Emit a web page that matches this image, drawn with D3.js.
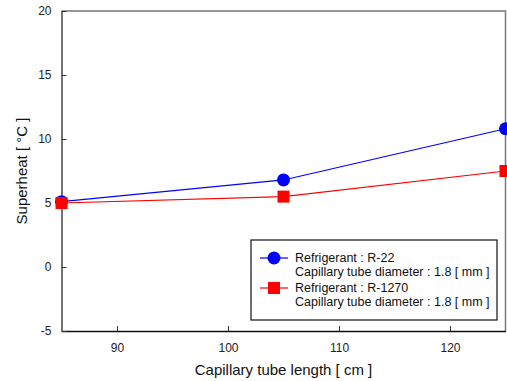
<!DOCTYPE html>
<html>
<head>
<meta charset="utf-8">
<script src="https://cdn.jsdelivr.net/npm/d3@7"></script>
<style>
  body { margin: 0; background: #fff; }
  svg { display: block; font-family: "Liberation Sans", Arial, sans-serif; }
</style>
</head>
<body>
<div id="chart"></div>
<script>
// Data
const lengths = [85, 105, 125];
const r22 = [5.1, 6.8, 10.8];
const r1270 = [5.0, 5.5, 7.5];
const xTicks = [90, 100, 110, 120];
const yTicks = [-5, 0, 5, 10, 15, 20];
const series = [
    { name: 'Refrigerant : R-22', sub: 'Capillary tube diameter : 1.8 [ mm ]', values: r22, color: '#0000ff', shape: 'circle' },
    { name: 'Refrigerant : R-1270', sub: 'Capillary tube diameter : 1.8 [ mm ]', values: r1270, color: '#ff0000', shape: 'square' }
];

const width = 507, height = 381;
const plotLeft = 61.5, plotRight = 505.5, plotTop = 11, plotBottom = 331;

const svg = d3.select('#chart').append('svg')
    .attr('width', width)
    .attr('height', height);

const x = d3.scaleLinear().domain([85, 125]).range([plotLeft, plotRight]);
const y = d3.scaleLinear().domain([-5, 20]).range([plotBottom, plotTop]);

// frame (top / right)
svg.append('path')
    .attr('d', `M${plotLeft},${plotTop}H${plotRight}V${plotBottom}`)
    .attr('fill', 'none')
    .attr('stroke', '#777')
    .attr('stroke-width', 1.5);

// x axis
const xAxis = svg.append('g')
    .attr('transform', `translate(0,${plotBottom})`)
    .call(d3.axisBottom(x).tickValues(xTicks).tickSizeInner(-5).tickSizeOuter(0).tickPadding(12));
xAxis.select('.domain').attr('stroke', '#111').attr('stroke-width', 1.5);
xAxis.selectAll('.tick line').attr('stroke', '#333');
xAxis.selectAll('text')
    .style('font-size', '12px')
    .style('font-family', '"Liberation Sans", Arial, sans-serif')
    .attr('fill', '#222');

// y axis
const yAxis = svg.append('g')
    .attr('transform', `translate(${plotLeft},0)`)
    .call(d3.axisLeft(y).tickValues(yTicks).tickFormat(d => String(d)).tickSizeInner(-5).tickSizeOuter(0).tickPadding(10));
yAxis.select('.domain').attr('stroke', '#444').attr('stroke-width', 1.5);
yAxis.selectAll('.tick line').attr('stroke', '#333');
yAxis.selectAll('text')
    .style('font-size', '12px')
    .style('font-family', '"Liberation Sans", Arial, sans-serif')
    .attr('fill', '#222');

// axis titles
svg.append('text')
    .attr('x', (plotLeft + plotRight) / 2)
    .attr('y', 375)
    .attr('text-anchor', 'middle')
    .style('font-size', '15px')
    .attr('fill', '#111')
    .text('Capillary tube length [ cm ]');

svg.append('text')
    .attr('transform', `translate(27,${(plotTop + plotBottom) / 2}) rotate(-90)`)
    .attr('text-anchor', 'middle')
    .style('font-size', '15px')
    .attr('fill', '#111')
    .text('Superheat [ °C ]');

// lines and markers
const line = d3.line()
    .x(d => x(d[0]))
    .y(d => y(d[1]));

function drawMarker(g, shape, cx, cy, color) {
    if (shape === 'circle') {
        g.append('circle').attr('cx', cx).attr('cy', cy).attr('r', 6.5).attr('fill', color);
    } else {
        g.append('rect').attr('x', cx - 6).attr('y', cy - 6).attr('width', 12).attr('height', 12).attr('fill', color);
    }
}

series.forEach(s => {
    const pts = lengths.map((l, i) => [l, s.values[i]]);
    svg.append('path')
        .attr('d', line(pts))
        .attr('fill', 'none')
        .attr('stroke', s.color)
        .attr('stroke-width', 1.2);
    const g = svg.append('g');
    pts.forEach(p => drawMarker(g, s.shape, x(p[0]), y(p[1]), s.color));
});

// legend
const legend = svg.append('g');
legend.append('rect')
    .attr('x', 251).attr('y', 240)
    .attr('width', 246).attr('height', 80)
    .attr('fill', '#fff')
    .attr('stroke', '#111')
    .attr('stroke-width', 1.2);

series.forEach((s, i) => {
    const cy = 258 + i * 30;
    legend.append('line')
        .attr('x1', 260).attr('x2', 288)
        .attr('y1', cy).attr('y2', cy)
        .attr('stroke', s.color)
        .attr('stroke-width', 1.2);
    drawMarker(legend, s.shape, 274, cy, s.color);
    legend.append('text')
        .attr('x', 295).attr('y', cy + 4)
        .style('font-size', '12.5px')
        .attr('fill', '#111')
        .text(s.name);
    legend.append('text')
        .attr('x', 295).attr('y', cy + 17.5)
        .style('font-size', '12.5px')
        .attr('fill', '#111')
        .text(s.sub);
});
</script>
</body>
</html>
